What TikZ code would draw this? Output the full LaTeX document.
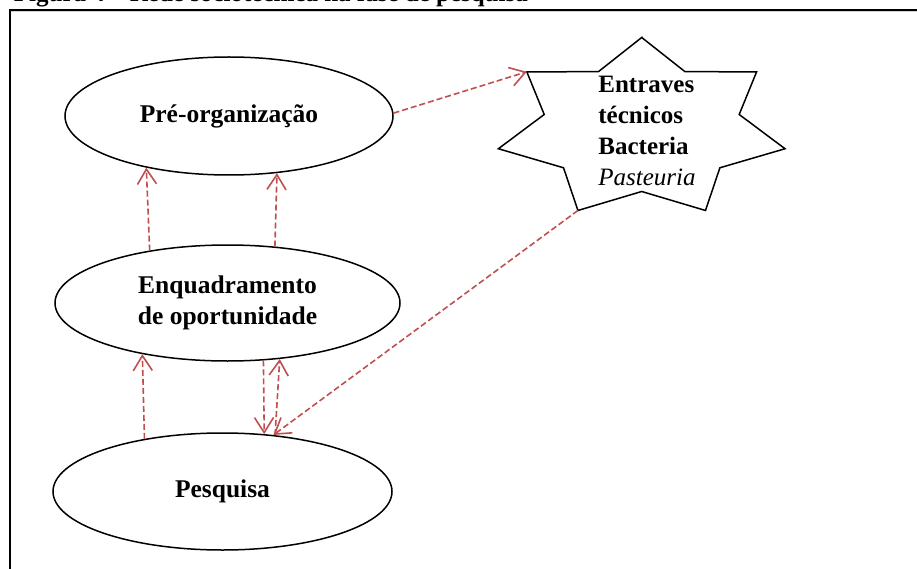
\documentclass[tikz,border=0pt]{standalone}
\usepackage{fontspec}
\setmainfont{Liberation Serif}
\usetikzlibrary{arrows.meta, shapes.geometric}
\definecolor{linkred}{RGB}{192,80,77}

\begin{document}
\begin{tikzpicture}[
    x=1pt, y=1pt,
    bubble/.style={draw, ellipse, line width=1.5pt, inner sep=0pt, align=center,
      font=\fontsize{25.5}{31}\selectfont\bfseries},
    arrow/.style={-{Straight Barb[length=15pt, width=19pt]}, line width=1.6pt,
      draw=linkred, dash pattern=on 6pt off 3pt}
  ]
  \useasboundingbox (0,0) rectangle (917,-569);
  \clip (0,0) rectangle (917,-569);

  % Title (cut off at the top) and frame
  \node[anchor=base east, inner sep=0pt, font=\fontsize{25}{30}\selectfont\bfseries]
    (title) at (528,-1.5) {Figura 4 -- Rede sociotécnica na fase de pesquisa};
  \draw[gray!35, line width=1pt] (11,-12) -- (930,-12);
  \draw[line width=1.5pt] (10,-580) -- (10,-10) -- (930,-10);

  % Ellipses
  \node[bubble, minimum width=328pt, minimum height=118pt] (pre) at (229,-116) {Pré-organização};
  \node[bubble, minimum width=345pt, minimum height=116pt] (enq) at (227.5,-303) {Enquadramento\\de oportunidade};
  \node[bubble, minimum width=339pt, minimum height=117pt] (pes) at (222.5,-491.5) {Pesquisa};

  % Star
  \begin{scope}[shift={(641.7,-128.5)}]
    \draw[line width=1.5pt, line join=miter] (90:147 and 91)
      \foreach \k in {1,...,7} { -- ({90+360/7*\k-180/7}:100 and 63) -- ({90+360/7*\k}:147 and 91) } -- cycle;
    \coordinate (tipTL) at ({90+360/7}:147 and 91);
    \coordinate (tipBL) at ({90+3*360/7}:147 and 91);
  \end{scope}
  \node[align=left, inner sep=0pt, font=\fontsize{25}{30.7}\selectfont\bfseries] (entraves) at (647,-131)
    {Entraves\\técnicos\\Bacteria\\{\normalfont\itshape Pasteuria}};

  % Arrows
  \draw[arrow] (pre.1) -- (tipTL);
  \draw[arrow] (tipBL) -- (pes.48);
  \draw[arrow] (enq.146) -- (pre.212);
  \draw[arrow] (enq.50) -- (pre.310);
  \draw[arrow] (pes.146) -- (enq.211);
  \draw[arrow] (enq.302) -- (pes.54);
  \draw[arrow] (pes.47) -- (enq.313);

\end{tikzpicture}
\end{document}
